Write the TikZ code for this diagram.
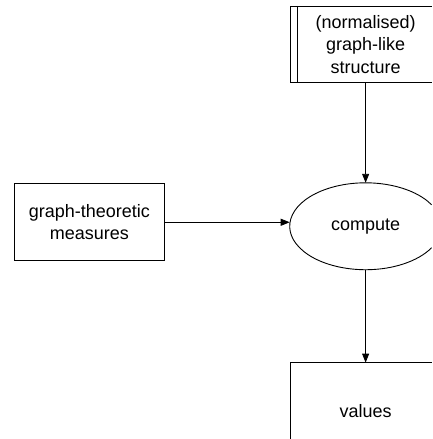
\documentclass[tikz,border=0pt]{standalone}
\usepackage{fontspec}
\setmainfont{Liberation Sans}
\usetikzlibrary{arrows.meta}
\tikzset{
  lbl/.style={font=\fontsize{18}{22.5}\selectfont, align=center, inner sep=0pt, outer sep=0pt},
  outline/.style={line width=0.9pt},
  flow/.style={line width=0.9pt, -{Triangle[length=9pt,width=7pt]}}
}
\begin{document}
\begin{tikzpicture}
  % white page of fixed size
  \fill[white] (0pt,0pt) rectangle (432pt,439pt);
  % labels
  \node[lbl] (struct) at (366pt,394.5pt) {(normalised)\\graph-like\\structure};
  \node[lbl, minimum width=151pt, minimum height=77pt] (measures) at (89.5pt,216.5pt)
    {graph-theoretic\\measures};
  \node[lbl] (compute) at (366pt,212.5pt) {compute};
  \node[lbl] (values) at (366pt,28pt) {values};
  % outline points of the shapes that run off the page edge
  \coordinate (struct-top)    at (291pt,433pt);
  \coordinate (struct-bottom) at (291pt,356pt);
  \coordinate (compute-top)    at (366pt,256pt);
  \coordinate (compute-bottom) at (366pt,169pt);
  \coordinate (compute-left)   at (290pt,212.5pt);
  \coordinate (values-top) at (291pt,76pt);
  \coordinate (edge) at (432pt,0pt);
  % outlines
  \draw[outline] (struct-top -| edge) -- (struct-top) -- (struct-bottom)
    -- (struct-bottom -| edge);
  \draw[outline] ([xshift=7pt]struct-top) -- ([xshift=7pt]struct-bottom);
  \draw[outline] (measures.south west) rectangle (measures.north east);
  \draw[outline] ([shift={(29.7:76pt and 43.5pt)}]compute.center)
    arc[start angle=29.7, end angle=330.3, x radius=76pt, y radius=43.5pt];
  \draw[outline] (values-top -| edge) -- (values-top) -- (values-top |- 0,0);
  % connectors
  \draw[flow] (struct |- struct-bottom) -- (compute-top);
  \draw[flow] (measures.east) -- (measures.east -| compute-left);
  \draw[flow] (compute-bottom) -- (values |- values-top);
\end{tikzpicture}
\end{document}
